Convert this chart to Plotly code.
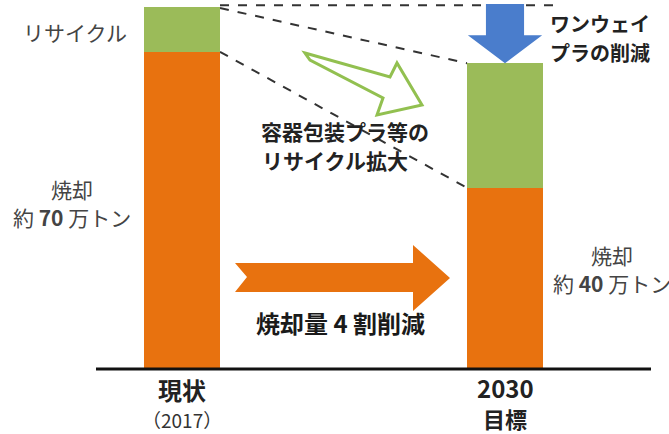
import plotly.graph_objects as go

# ---- data (万トン) ----
categories = ["現状", "2030"]
sublabels = ["（2017）", "目標"]
incineration = [70, 40]
recycle = [10, 27.5]

W, H = 669, 434
ORANGE = "#E8720F"
GREEN = "#9BBB59"
BLUE = "#4A7DCC"
FONT = "Noto Sans CJK JP"

def px(x):
    return x / W

def py(y):
    return 1 - y / H

xs = list(range(len(categories)))
bw = 0.2353
total = [a + b for a, b in zip(incineration, recycle)]

fig = go.Figure()
fig.add_trace(go.Bar(x=xs, y=incineration, width=bw, marker=dict(color=ORANGE, line=dict(width=0)),
                     hoverinfo="skip"))
fig.add_trace(go.Bar(x=xs, y=recycle, width=bw, marker=dict(color=GREEN, line=dict(width=0)),
                     hoverinfo="skip"))

shapes = []
# baseline
shapes.append(dict(type="line", xref="paper", yref="y", x0=px(96), x1=px(651), y0=0, y1=0,
                   line=dict(color="#111", width=3)))
# dashed connectors
dash = dict(color="#333", width=2, dash="dash")
shapes.append(dict(type="line", xref="x", yref="y", x0=xs[0] + bw / 2, y0=total[0] + 0.3,
                   x1=xs[1] + 0.155, y1=total[0] + 0.3, line=dash, layer="below"))
shapes.append(dict(type="line", xref="x", yref="y", x0=xs[0] + bw / 2, y0=total[0] - 0.3,
                   x1=xs[1] - bw / 2, y1=total[1], line=dash, layer="below"))
shapes.append(dict(type="line", xref="x", yref="y", x0=xs[0] + bw / 2, y0=incineration[0],
                   x1=xs[1] - bw / 2, y1=incineration[1], line=dash, layer="below"))

# blue down arrow (one-way plastics reduction), from old total down to new total
cx = xs[1]
sh, hh = 0.059, 0.115
ytop, yhead, ytip = total[0] + 0.6, 73.7, total[1]
blue_path = (f"M {cx - sh},{ytop} L {cx + sh},{ytop} L {cx + sh},{yhead} L {cx + hh},{yhead} "
             f"L {cx},{ytip} L {cx - hh},{yhead} L {cx - sh},{yhead} Z")
shapes.append(dict(type="path", xref="x", yref="y", path=blue_path,
                   fillcolor=BLUE, line=dict(width=0)))

# green hollow arrow
g = [(305, 53), (390, 77), (397, 63), (422, 105), (377, 115), (383, 98), (310, 60)]
gpath = "M " + " L ".join(f"{px(a)},{py(b)}" for a, b in g) + " Z"
shapes.append(dict(type="path", xref="paper", yref="paper", path=gpath,
                   fillcolor="white", line=dict(color="#92C050", width=3)))

# orange right arrow
o = [(235, 263), (413, 263), (413, 245), (450, 278), (413, 311), (413, 292), (235, 292), (247, 277)]
opath = "M " + " L ".join(f"{px(a)},{py(b)}" for a, b in o) + " Z"
shapes.append(dict(type="path", xref="paper", yref="paper", path=opath,
                   fillcolor=ORANGE, line=dict(width=0)))

ann = []
def txt(x, y, s, size, color="#222", xanchor="center"):
    ann.append(dict(x=px(x), y=py(y), xref="paper", yref="paper", text=s, showarrow=False,
                    xanchor=xanchor, yanchor="middle",
                    font=dict(family=FONT, size=size, color=color)))

txt(75, 32, "リサイクル", 21, "#444")
txt(72, 189, "焼却", 21, "#444")
txt(72, 217, f"約 <b>{incineration[0]}</b> 万トン", 21, "#444")
txt(612, 255, "焼却", 21, "#444")
txt(612, 283, f"約 <b>{incineration[1]}</b> 万トン", 21, "#444")
txt(548, 24, "<b>ワンウェイ</b>", 20, xanchor="left")
txt(548, 52, "<b>プラの削減</b>", 20, xanchor="left")
txt(345, 131, "<b>容器包装プラ等の</b>", 21)
txt(335, 160, "<b>リサイクル拡大</b>", 21)
txt(340, 322, "<b>焼却量 4 割削減</b>", 24, "#1a1a1a")
txt(182, 389, f"<b>{categories[0]}</b>", 24)
txt(182, 419, sublabels[0], 19, "#333")
txt(505, 387, f"<b>{categories[1]}</b>", 24)
txt(505, 418, f"<b>{sublabels[1]}</b>", 22)

fig.update_layout(
    width=W, height=H, margin=dict(l=0, r=0, t=0, b=0),
    paper_bgcolor="white", plot_bgcolor="white",
    barmode="stack", showlegend=False, bargap=0,
    xaxis=dict(range=[-182 / 323, 1 + 164 / 323], visible=False, fixedrange=True),
    yaxis=dict(range=[-14.35, 81.46], visible=False, fixedrange=True),
    shapes=shapes, annotations=ann,
    font=dict(family=FONT),
)
fig.write_html("out.html", config={"displayModeBar": False},
               post_script="document.body.style.margin='0';document.body.style.overflow='hidden';")
